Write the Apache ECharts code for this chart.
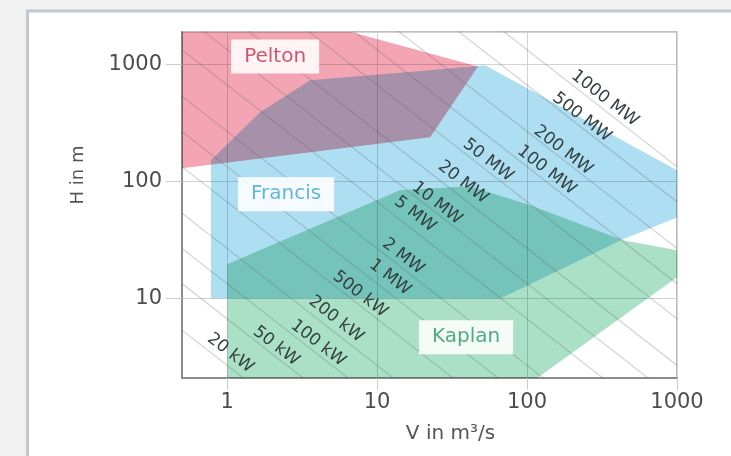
<!DOCTYPE html>
<html><head><meta charset="utf-8">
<script src="https://cdn.jsdelivr.net/npm/echarts@6/dist/echarts.min.js"></script>
<style>html,body{margin:0;padding:0;background:#f1f1f1}#c{width:731px;height:456px}</style>
</head><body><div id="c"></div>
<script>
// ---- data ----
const xTickValues = [1, 10, 100, 1000];
const yTickValues = [10, 100, 1000];
const xRange = [0.5, 1000];
const yRange = [2.08, 1890];
// region outlines [Q (m3/s), H (m)]
const peltonPts  = [[0.5,1890],[6.7,1890],[47,960],[22.6,238],[0.5,129]];
const francisPts = [[0.78,10],[0.78,151],[1.66,389],[3.57,730],[22.6,889],[52.5,980],[1000,124],[1000,49],[437,31.9],[67,10]];
const kaplanPts  = [[1,2.08],[1,19.5],[14.2,83.8],[41.7,90.6],[105,62.4],[437,31.3],[1000,25.7],[1000,15.1],[117,2.08]];
// iso-power lines
const powerKW = [20,50,100,200,500,1000,2000,5000,10000,20000,50000,100000,200000,500000,1000000];
const powerLabels = ['20 kW','50 kW','100 kW','200 kW','500 kW','1 MW','2 MW','5 MW','10 MW','20 MW','50 MW','100 MW','200 MW','500 MW','1000 MW'];
const powerLabelQ = [1.05,2.12,4.04,5.33,7.71,12.2,14.9,17.9,25.1,37.4,55,135,174,232,330];
const powerLabelH = [3.39,3.89,4.12,6.62,10.8,15.1,22.8,52.2,64.9,98,151,124,184,352,512];
const kWperQH = 7.5; // P[kW] = k * Q * H
// region names
const regionNames = ['Pelton','Francis','Kaplan'];
const regionLabelQ = [2.09, 2.47, 39.2];
const regionLabelH = [1169, 77.5, 4.64];

// ---- styles ----
const FONT = 'DejaVu Sans';
const regionColors = ['#f3a5b4', '#aedef1', '#aae1c6'];
const regionTextColors = ['#d2566f', '#62b8d8', '#4fab84'];

function fmt(v) {
  if (v >= 1) return String(Math.round(v));
  return String(v);
}

function polygonSeries(name, pts, color) {
  return {
    type: 'custom', name: name, coordinateSystem: 'cartesian2d', clip: true, silent: true, z: 2,
    blendMode: 'multiply',
    data: pts, encode: { x: 0, y: 1 },
    renderItem: function (params, api) {
      if (params.dataIndex !== 0) return null;
      return {
        type: 'polygon',
        shape: { points: pts.map(function (p) { return api.coord(p); }) },
        style: { fill: color }
      };
    }
  };
}

const series = [
  polygonSeries('Pelton', peltonPts, regionColors[0]),
  polygonSeries('Francis', francisPts, regionColors[1]),
  polygonSeries('Kaplan', kaplanPts, regionColors[2])
];

powerKW.forEach(function (p) {
  series.push({
    type: 'line', silent: true, clip: true, z: 3, showSymbol: false, animation: false,
    data: [[xRange[0], p / (kWperQH * xRange[0])], [xRange[1], p / (kWperQH * xRange[1])]],
    lineStyle: { color: 'rgba(95,95,95,0.25)', width: 1.3 }
  });
});

series.push({
  type: 'custom', coordinateSystem: 'cartesian2d', silent: true, clip: false, z: 5,
  data: powerLabelQ.map(function (q, i) { return [q, powerLabelH[i]]; }),
  encode: { x: 0, y: 1 },
  renderItem: function (params, api) {
    const a = api.coord([1, 100]), b = api.coord([10, 10]);
    const ang = Math.atan2(b[1] - a[1], b[0] - a[0]);
    const c = api.coord([api.value(0), api.value(1)]);
    return {
      type: 'text', x: c[0], y: c[1], rotation: -ang,
      style: { text: powerLabels[params.dataIndex], fill: '#344040', fontSize: 17, fontFamily: FONT, align: 'center', verticalAlign: 'middle' }
    };
  }
});

series.push({
  type: 'custom', coordinateSystem: 'cartesian2d', silent: true, clip: false, z: 6,
  data: regionLabelQ.map(function (q, i) { return [q, regionLabelH[i]]; }),
  encode: { x: 0, y: 1 },
  renderItem: function (params, api) {
    const i = params.dataIndex;
    const c = api.coord([api.value(0), api.value(1)]);
    return {
      type: 'text', x: c[0], y: c[1],
      style: {
        text: regionNames[i], fill: regionTextColors[i], fontSize: 20, fontFamily: FONT,
        align: 'center', verticalAlign: 'middle',
        backgroundColor: 'rgba(255,255,255,0.88)', padding: [7, 13, 7, 13]
      }
    };
  }
});

const chart = echarts.init(document.getElementById('c'), null, { renderer: 'canvas' });
chart.setOption({
  animation: false,
  backgroundColor: '#f1f1f1',
  graphic: [{
    type: 'rect', z: -10, silent: true,
    shape: { x: 27.5, y: 11, width: 720, height: 460 },
    style: { fill: '#ffffff', stroke: '#c0c7cf', lineWidth: 3 }
  }],
  grid: { left: 182, right: 54, top: 32, bottom: 78, show: true, borderColor: '#a8a8a8', borderWidth: 1.5, backgroundColor: 'transparent' },
  xAxis: {
    type: 'log', logBase: 10, min: xRange[0], max: xRange[1],
    name: 'V in m³/s', nameLocation: 'middle', nameGap: 46,
    nameTextStyle: { fontFamily: FONT, fontSize: 20, color: '#555', padding: [0, 0, 0, 42] },
    axisLine: { show: true, onZero: false, lineStyle: { color: '#8c8c8c', width: 2 } },
    axisTick: { show: true, length: 12, lineStyle: { color: '#cccccc' } },
    axisLabel: { fontFamily: FONT, fontSize: 21, color: '#4d4d4d', margin: 14, showMinLabel: false,
      formatter: function (v) { return xTickValues.indexOf(Math.round(v)) >= 0 ? fmt(v) : ''; } },
    splitLine: { show: true, lineStyle: { color: '#d2d2d2', width: 1 } }
  },
  yAxis: {
    type: 'log', logBase: 10, min: yRange[0], max: yRange[1],
    name: 'H in m', nameLocation: 'middle', nameGap: 95, nameRotate: 90,
    nameTextStyle: { fontFamily: FONT, fontSize: 18, color: '#555', padding: [0, 0, 0, 60] },
    axisLine: { show: true, onZero: false, lineStyle: { color: '#8c8c8c', width: 2 } },
    axisTick: { show: true, length: 16, lineStyle: { color: '#cccccc' } },
    axisLabel: { fontFamily: FONT, fontSize: 21, color: '#4d4d4d', margin: 20, showMinLabel: false, showMaxLabel: false,
      formatter: function (v) { return yTickValues.indexOf(Math.round(v)) >= 0 ? fmt(v) : ''; } },
    splitLine: { show: true, lineStyle: { color: '#d2d2d2', width: 1 } }
  },
  series: series
});
</script>
</body></html>
